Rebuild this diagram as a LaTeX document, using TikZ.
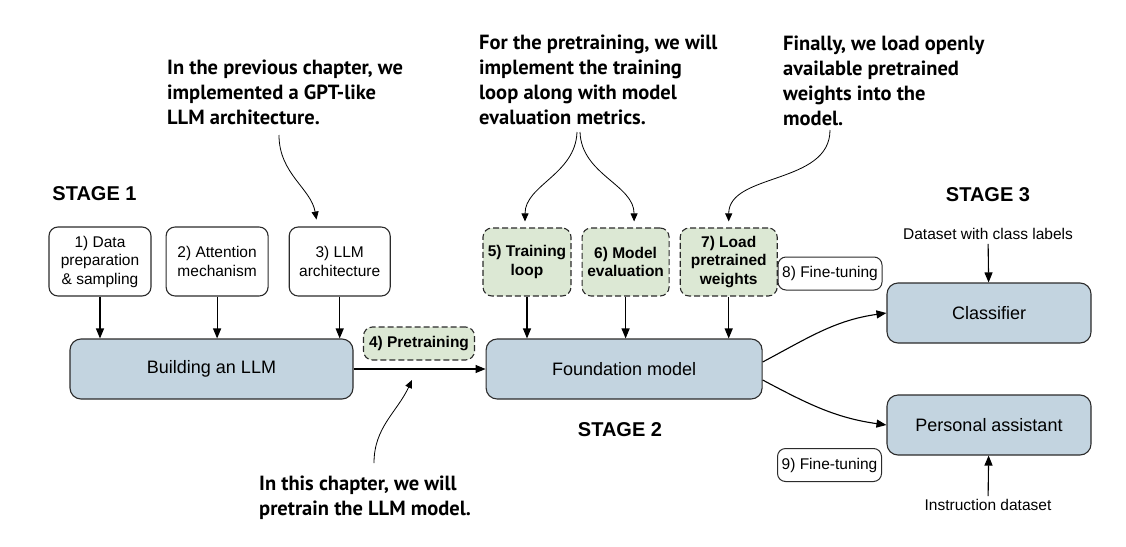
\documentclass[tikz,border=0pt]{standalone}
\usepackage{fontspec}
\setmainfont{Liberation Sans}
\newfontfamily\notefont{PT Sans}
\usepackage{tikz}
\usetikzlibrary{arrows.meta, positioning}

\definecolor{boxblue}{HTML}{C3D4E0}
\definecolor{boxgreen}{HTML}{DCE8D4}
\definecolor{edgegray}{HTML}{2B2B2B}

\begin{document}
\begin{tikzpicture}[x=1pt,y=1pt,>={Triangle[length=10pt,width=8pt]},
        every node/.style={font=\fontsize{15.5}{18.5}\selectfont},
        stepbox/.style={draw=edgegray,line width=1.1pt,rounded corners=9pt,fill=white,align=center,
            minimum width=102pt,minimum height=69pt,inner sep=1pt},
        model/.style={draw=edgegray,line width=1.1pt,rounded corners=11pt,fill=boxblue,
            minimum height=60pt,font=\fontsize{18}{21}\selectfont},
        phase/.style={draw=edgegray,line width=1.1pt,dash pattern=on 6pt off 3pt,rounded corners=9pt,
            fill=boxgreen,align=center,minimum height=68pt,inner sep=1pt,
            font=\bfseries\fontsize{15.5}{18.5}\selectfont},
        tag/.style={draw=edgegray,line width=1pt,rounded corners=8pt,fill=white,
            minimum width=104pt,minimum height=33pt,inner sep=1pt},
        stage/.style={font=\bfseries\fontsize{20}{24}\selectfont},
        note/.style={font=\notefont\bfseries\fontsize{20.5}{25}\selectfont,align=left,inner sep=0pt,anchor=north west},
        flow/.style={->,line width=1.1pt},
        pointer/.style={-{Triangle[length=8pt,width=7pt]},line width=0.8pt}]

    \useasboundingbox (0,0) rectangle (1126,-546);

    \node[stage] (s1) at (94.5,-194) {STAGE 1};
    \node[stage] (s2) at (620,-430)  {STAGE 2};
    \node[stage] (s3) at (988,-195)  {STAGE 3};

    \node[stepbox] (prep) at (100,-261.5) {1) Data\\preparation\\\& sampling};
    \node[stepbox] (attn) [right=14pt of prep] {2) Attention\\mechanism};
    \node[stepbox, minimum width=101pt] (arch) [right=20pt of attn] {3) LLM\\architecture};

    \node[model, minimum width=283pt] (build) at (211.5,-369) {Building an LLM};
    \node[model, minimum width=276pt] (found) [right=132pt of build] {Foundation model};
    \node[phase, minimum width=111pt, minimum height=33pt] (pre) at (419,-343.5) {4) Pretraining};

    \node[phase, minimum width=88pt] (train) at (527,-262) {5) Training\\loop};
    \node[phase, minimum width=87pt] (eval) [right=10pt of train] {6) Model\\evaluation};
    \node[phase, minimum width=97pt] (load) [right=10pt of eval] {7) Load\\pretrained\\weights};

    \node[tag] (ft8) at (830,-273.5) {8) Fine-tuning};
    \node[tag] (ft9) at (829.5,-465) {9) Fine-tuning};
    \node[model, minimum width=204pt] (cls) at (989,-313) {Classifier};
    \node[model, minimum width=204pt] (pa)  at (989,-425) {Personal assistant};
    \node[inner sep=4pt] (dsl)   at (988,-234) {Dataset with class labels};
    \node[inner sep=3pt] (instr) at (988,-505) {Instruction dataset};

    \node[note] (n1) at (167,-60)  {In the previous chapter, we\\implemented a GPT-like\\LLM architecture.};
    \node[note] (n2) at (479,-35)  {For the pretraining, we will\\implement the training\\loop along with model\\evaluation metrics.};
    \node[note] (n3) at (783,-36)  {Finally, we load openly\\available pretrained\\weights into the\\model.};
    \node[note] (n4) at (259,-476) {In this chapter, we will\\pretrain the LLM model.};

    \coordinate (c1) at (279,-135);
    \coordinate (c2a) at (577,-132);
    \coordinate (c2b) at (580,-132);
    \coordinate (c3) at (830,-130);
    \coordinate (c4) at (374,-463);
    \coordinate (t4) at (412,-380);

    \draw[flow] (prep) -- (prep |- build.north);
    \draw[flow] (attn) -- (attn |- build.north);
    \draw[flow] (arch) -- (arch |- build.north);
    \draw[flow] (train) -- (train |- found.north);
    \draw[flow] (eval) -- (eval |- found.north);
    \draw[flow] (load) -- (load |- found.north);
    \draw[flow] (build) -- (found);
    \draw[flow] ([yshift=7pt]found.east) to[out=28,in=188] (cls.west);
    \draw[flow] ([yshift=-11pt]found.east) to[out=-28,in=172] (pa.west);
    \draw[flow] (dsl) -- (cls);
    \draw[flow] (instr) -- (pa);

    \draw[pointer, shorten >=7pt] (c1) to[out=-90,in=100] ([xshift=-22pt]arch.north);
    \draw[pointer, shorten >=6pt] (c2a) to[out=-92,in=90] ([xshift=-2pt]train.north);
    \draw[pointer, shorten >=6pt] (c2b) to[out=-88,in=90] ([xshift=8.5pt]eval.north);
    \draw[pointer, shorten >=6pt] (c3) to[out=-90,in=90] (load.north);
    \draw[pointer] (c4) to[out=90,in=-115] (t4);
\end{tikzpicture}
\end{document}
